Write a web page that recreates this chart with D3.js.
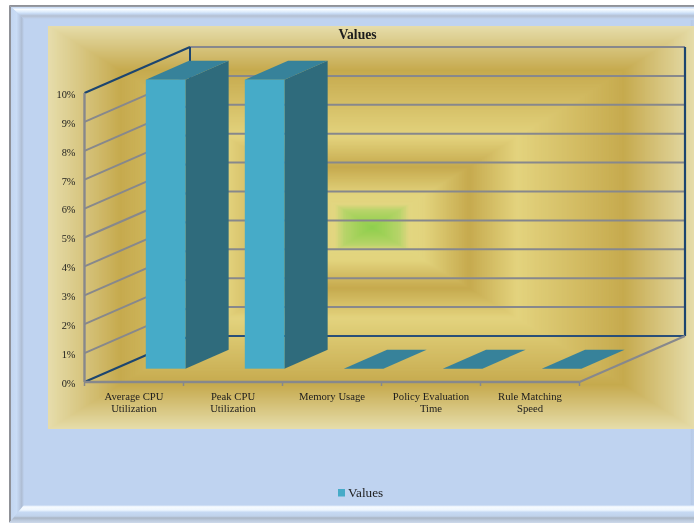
<!DOCTYPE html>
<html><head><meta charset="utf-8">
<script src="https://d3js.org/d3.v7.min.js"></script>
<style>html,body{margin:0;padding:0;background:#fff}svg{display:block}text{font-family:"Liberation Serif",serif;fill:#1c1c1c}</style>
</head><body><div id="c"></div>
<script>
const categories = ["Average CPU Utilization","Peak CPU Utilization","Memory Usage","Policy Evaluation Time","Rule Matching Speed"];
const categoryLines = [["Average CPU","Utilization"],["Peak CPU","Utilization"],["Memory Usage"],["Policy Evaluation","Time"],["Rule Matching","Speed"]];
const values = [10,10,0,0,0];
const yTicks = [0,1,2,3,4,5,6,7,8,9,10];
const seriesName = "Values";
const title = "Values";

const W=694,H=523;
const root=d3.select("#c").append("svg").attr("width",W).attr("height",H);
const defs=root.append("defs");
defs.append("filter").attr("id","soft").attr("x",0).attr("y",0).attr("width","100%").attr("height","100%")
  .attr("color-interpolation-filters","sRGB")
  .append("feGaussianBlur").attr("stdDeviation",0.35);
const svg=root.append("g").attr("filter","url(#soft)");
const BG="#bfd3f0", GRAY="#87888c", NAVY="#1c4570";

// outer frame
svg.append("rect").attr("width",W).attr("height",H).attr("fill","#fff");
svg.append("rect").attr("x",10).attr("y",6).attr("width",W-10).attr("height",H-6).attr("fill",BG);
function grad(id,x2,y2,stops){
  const g=defs.append("linearGradient").attr("id",id).attr("x1",0).attr("y1",0).attr("x2",x2).attr("y2",y2);
  stops.forEach(s=>g.append("stop").attr("offset",s[0]).attr("stop-color",s[1]));
}
grad("fT",0,1,[[0,"#8f9197"],[.1,"#8f9197"],[.16,"#c6d9f3"],[.32,"#f6fbff"],[.5,"#dcebfb"],[.62,"#c6d9f3"],[.78,"#b4c0d2"],[.9,"#bccbe2"],[1,BG]]);
grad("fL",1,0,[[0,"#8f9197"],[.11,"#8f9197"],[.16,"#c3d6f0"],[.5,"#c9dcf5"],[.68,"#bccde6"],[.85,"#aebdd3"],[1,BG]]);
grad("fB",0,1,[[0,BG],[.1,"#f6fbff"],[.28,"#eef6fe"],[.4,"#c6d9f3"],[.62,"#c0d2ea"],[.72,"#aab5c4"],[.85,"#bccadd"],[1,"#cdd9ea"]]);
grad("fR",1,0,[[0,BG],[.4,"#b8cae6"],[1,"#bdd0ec"]]);
svg.append("rect").attr("x",690).attr("y",20).attr("width",4).attr("height",486).attr("fill","url(#fR)");
svg.append("polygon").attr("points","9,5 694,5 694,19 24,19").attr("fill","url(#fT)");
svg.append("polygon").attr("points","9,5 24,19 24,505 9,523").attr("fill","url(#fL)");
svg.append("polygon").attr("points","24,505 694,505 694,523 9,523").attr("fill","url(#fB)");

// panel: rectangular gradient built from nested rects
const P={x:48,y:26,w:W-48,h:403};
const cx=P.x+P.w/2+1, cy=P.y+P.h/2;
const bgColor=d3.scaleLinear()
  .domain([0,.04,.085,.115,.16,.3,.45,.78,1])
  .range(["#8fcf4e","#a0d158","#b8d46a","#e2d680","#e2d47e","#c6aa4e","#e3d37e","#c6aa4e","#e6ddab"])
  .interpolate(d3.interpolateRgb);
const nSteps=200;
svg.append("g").selectAll("rect").data(d3.range(nSteps,0,-1)).join("rect")
  .attr("x",i=>i===nSteps?P.x:cx-P.w/2*i/nSteps).attr("y",i=>cy-P.h/2*i/nSteps)
  .attr("width",i=>i===nSteps?P.w:P.w*i/nSteps).attr("height",i=>P.h*i/nSteps)
  .attr("fill",i=>bgColor((i-.5)/nSteps));

// scales
const x=d3.scaleBand().domain(categories).range([84.5,579.5]);
const xBar=d3.scaleBand().domain(categories).range([85.5,580.5]).paddingInner(.6).paddingOuter(.3);
const y=d3.scaleLinear().domain([0,10]).range([382,93]);
const depth={dx:105.5,dy:46};
const proj=(px,val,d)=>[px+depth.dx*d,y(val)-depth.dy*d];
const pts=a=>a.map(p=>p.join(",")).join(" ");
const line=(g,a,b,c,w)=>g.append("line").attr("x1",a[0]).attr("y1",a[1]).attr("x2",b[0]).attr("y2",b[1]).attr("stroke",c).attr("stroke-width",w);

const x0=x.range()[0], x1=x.range()[1];
const grid=svg.append("g");
yTicks.forEach(t=>{
  if(t===0||t===10) return;
  line(grid,proj(x0,t,0),proj(x0,t,1),GRAY,2);
  line(grid,proj(x0,t,1),proj(x1,t,1),GRAY,2);
});
line(grid,proj(x0,10,1),proj(x1,10,1),GRAY,2);
line(grid,proj(x0,0,1),proj(x1,0,1),"#2a4f78",2.2);
line(grid,proj(x1,0,1),proj(x1,10,1),NAVY,2.2);
line(grid,proj(x0,0,1),proj(x0,10,1),NAVY,2);
line(grid,proj(x0,10,0),proj(x0,10,1),NAVY,2);
line(grid,proj(x0,0,0),proj(x0,0,1),NAVY,2);
line(grid,proj(x1,0,0),proj(x1,0,1),GRAY,2);

// front axes
line(grid,proj(x0,0,0),proj(x1,0,0),GRAY,2.4);
line(grid,proj(x0,0,0),proj(x0,10,0),GRAY,2.4);
categories.concat([null]).forEach(c=>{
  const px=c?x(c):x1;
  grid.append("line").attr("x1",px).attr("x2",px).attr("y1",y(0)).attr("y2",y(0)+4).attr("stroke",GRAY).attr("stroke-width",1.5);
});

// bars
const F=.29,B=.70;
const bars=svg.append("g").selectAll("g").data(categories.map((c,i)=>({c,v:values[i]}))).join("g");
bars.append("polygon").attr("fill","#2f6b7c")
  .attr("points",d=>{const r=xBar(d.c)+xBar.bandwidth();return pts([proj(r,0,F),proj(r,0,B),proj(r,d.v,B),proj(r,d.v,F)]);});
bars.append("polygon").attr("fill","#37829a")
  .attr("points",d=>{const l=xBar(d.c),r=l+xBar.bandwidth();return pts([proj(l,d.v,F),proj(r,d.v,F),proj(r,d.v,B),proj(l,d.v,B)]);});
bars.append("rect").attr("fill","#46abc8")
  .attr("x",d=>proj(xBar(d.c),0,F)[0]).attr("width",xBar.bandwidth())
  .attr("y",d=>proj(0,d.v,F)[1]).attr("height",d=>y(0)-y(d.v));

// y axis
const ay=svg.append("g").attr("transform",`translate(${x0},1)`)
  .call(d3.axisLeft(y).tickValues(yTicks).tickFormat(d=>d+"%").tickSize(0).tickPadding(9));
ay.select(".domain").remove();
ay.selectAll("text").attr("font-size",10.4).attr("font-family",'"Liberation Serif",serif').style("fill","#1c1c1c");

// x axis with wrapped labels
const ax=svg.append("g").attr("transform",`translate(0,${y(0)})`)
  .call(d3.axisBottom(x).tickSize(0).tickPadding(0));
ax.select(".domain").remove();
ax.selectAll("text").attr("font-size",10.7).attr("font-family",'"Liberation Serif",serif').style("fill","#1c1c1c")
  .attr("y",0).attr("dy",null).text(null)
  .each(function(d){
    const t=d3.select(this);
    categoryLines[categories.indexOf(d)].forEach((s,i)=>t.append("tspan").attr("x",0).attr("y",18+i*12).text(s));
  });

// title and legend
svg.append("text").attr("x",357.5).attr("y",38.5).attr("text-anchor","middle").attr("font-size",13.6).attr("font-weight","bold").text(title);
svg.append("rect").attr("x",338).attr("y",489).attr("width",7).attr("height",7.5).attr("fill","#46abc8");
svg.append("text").attr("x",348).attr("y",497).attr("font-size",13.2).text(seriesName);
</script></body></html>
